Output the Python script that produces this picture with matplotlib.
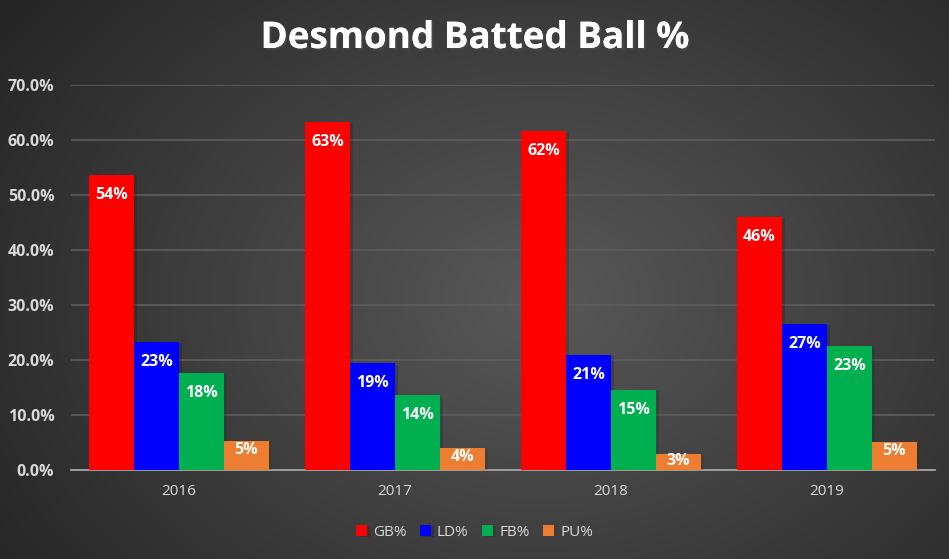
import numpy as np
import matplotlib
matplotlib.use("Agg")
import matplotlib.pyplot as plt
from matplotlib.ticker import PercentFormatter
import matplotlib.patheffects as pe

years = ["2016", "2017", "2018", "2019"]
series = ["GB%", "LD%", "FB%", "PU%"]
gb = [53.6, 63.2, 61.6, 46.0]
ld = [23.3, 19.4, 20.9, 26.6]
fb = [17.6, 13.6, 14.6, 22.6]
pu = [5.3, 4.0, 2.9, 5.1]
colors = ["#ff0000", "#0000ff", "#00b050", "#ed7d31"]

plt.rcParams["font.family"] = ["Open Sans", "DejaVu Sans"]

fig = plt.figure(figsize=(9.49, 5.59), dpi=100)

# radial grey background
bg = fig.add_axes([0, 0, 1, 1], zorder=-10)
yy, xx = np.mgrid[0:559, 0:949]
r = np.sqrt(((xx - 540) / 560.0) ** 2 + ((yy - 300) / 420.0) ** 2)
shade = np.clip(0.35 - 0.17 * r, 0.15, 0.35)
bg.imshow(shade, cmap="gray", vmin=0, vmax=1, aspect="auto", extent=[0, 1, 0, 1])
bg.axis("off")

ax = fig.add_axes([71 / 949, 1 - 470 / 559, 864 / 949, 385 / 559])
ax.patch.set_alpha(0)

x = np.arange(len(years))
w = 0.2083
shadow = [pe.SimplePatchShadow(offset=(2, -1), alpha=0.22), pe.Normal()]
for i, (vals, c) in enumerate(zip([gb, ld, fb, pu], colors)):
    pos = x - 1.5 * w + i * w
    bars = ax.bar(pos, vals, w, color=c, label=series[i], zorder=3)
    for b in bars:
        b.set_path_effects(shadow)
    for b, v in zip(bars, vals):
        yc = v - 3.6 if v > 8 else max(v - 1.7, 1.6)
        ax.text(b.get_x() + b.get_width() / 2, yc, f"{v:.0f}%", ha="center", va="center",
                color="white", fontsize=11.5, fontweight="bold", zorder=4)

ax.set_xlim(-0.5, 3.5)
ax.set_ylim(0, 70)
ax.set_yticks(np.arange(0, 71, 10))
ax.yaxis.set_major_formatter(PercentFormatter(decimals=1))
ax.set_xticks(x)
ax.set_xticklabels(years)
ax.grid(axis="y", color="#5e5e5e", linewidth=1.2, zorder=0)
for s in ["top", "right", "left"]:
    ax.spines[s].set_visible(False)
ax.spines["bottom"].set_color("#a6a6a6")
ax.spines["bottom"].set_linewidth(1.3)
ax.tick_params(axis="y", length=0, colors="#d9d9d9", labelsize=11.5, pad=12)
ax.tick_params(axis="x", length=0, colors="#d9d9d9", labelsize=11, pad=10)
for t in ax.get_yticklabels():
    t.set_fontweight("bold")

fig.text(0.5, 1 - 38 / 559, "Desmond Batted Ball %", ha="center", va="center",
         color="white", fontsize=26.5, fontweight="bold",
         path_effects=[pe.withSimplePatchShadow(offset=(1.5, -1.5), alpha=0.5), pe.Normal()])

leg = fig.legend(loc="center", bbox_to_anchor=(0.5, 1 - 532 / 559), ncol=4, frameon=False,
                 handlelength=0.7, handleheight=0.7, handletextpad=0.4, columnspacing=0.9,
                 fontsize=11)
for t in leg.get_texts():
    t.set_color("#d9d9d9")

fig.savefig("out.png", dpi=100)
